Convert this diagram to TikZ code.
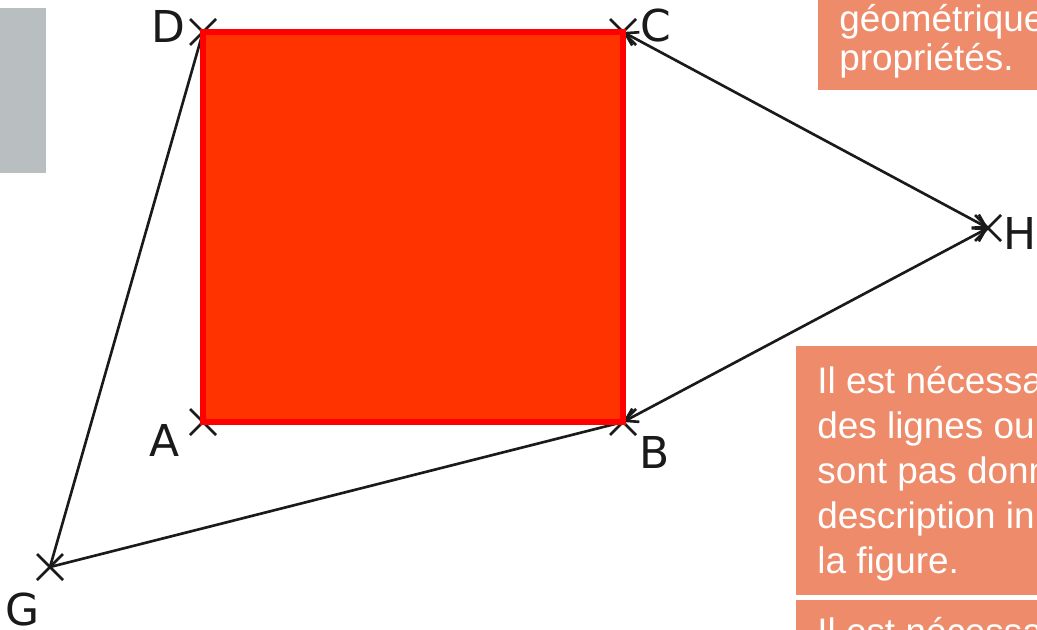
\documentclass[tikz,border=0pt]{standalone}
\usepackage{fontspec}
\setmainfont{Liberation Sans}
\newfontfamily\labelfont{DejaVu Sans}
\usetikzlibrary{positioning, arrows.meta}
\definecolor{squareRed}{HTML}{FF3300}
\definecolor{edgeRed}{HTML}{FF0000}
\definecolor{noteOrange}{HTML}{EE8B6A}
\definecolor{sideGrey}{HTML}{B9BEC1}
\definecolor{ink}{HTML}{1A1A1A}

\begin{document}
\begin{tikzpicture}[x=0.02cm, y=-0.02cm]
  \tikzset{pointlabel/.style={font=\labelfont\fontsize{25}{30}\selectfont, text=ink, inner sep=0pt},
    crossmark/.style={draw=ink, line width=1.5pt},
    segment/.style={draw=ink, line width=1.5pt},
    arrowseg/.style={segment, {Straight Barb[length=2.4mm,width=3mm]}-{Straight Barb[length=2.4mm,width=3mm]}},
    notebox/.style={fill=noteOrange},
    noteline/.style={anchor=base west, inner sep=0pt, text=white, font=\fontsize{21}{25}\selectfont}}
  \clip (0,0) rectangle (1037,629);
  \fill[white] (0,0) rectangle (1037,629);
  % points of the figure
  \coordinate (A) at (203,422);
  \coordinate (B) at (623,422);
  \coordinate (C) at (623,32);
  \coordinate (D) at (203,32);
  \coordinate (G) at (50,567);
  \coordinate (H) at (988,228);
  \foreach \p in {A,B,C,D,G,H}
    \draw[crossmark] (\p) ++(-13,-13) -- ++(26,26) (\p) ++(-13,13) -- ++(26,-26);
  \draw[segment] (G) -- (D);
  \draw[segment] (G) -- (B);
  \draw[arrowseg] (H) -- (C);
  \draw[arrowseg] (H) -- (B);
  \draw[fill=squareRed, draw=edgeRed, line width=3pt] (D) rectangle (B);
  \node[pointlabel] (labA) at (165,440) {A};
  \node[pointlabel] (labB) at (655,452) {B};
  \node[pointlabel] (labC) at (656,26) {C};
  \node[pointlabel] (labD) at (168,26) {D};
  \node[pointlabel] (labG) at (23,609) {G};
  \node[pointlabel] (labH) at (1020,233) {H};
  % side panels
  \fill[sideGrey] (0,8) rectangle (46,173);
  \fill[notebox] (818,-5) rectangle (1040,90);
  \fill[notebox] (796,346) rectangle (1040,595);
  \fill[notebox] (796,600) rectangle (1040,640);
  \node[noteline] (top1) at (839,31) {géométrique};
  \node[noteline] (top2) at (839,70) {propriétés.};
  \foreach \txt [count=\i from 0] in {Il est nécessa, des lignes ou, sont pas donn, description in, la figure.}
    \node[noteline] (note\i) at (817,{393+45*\i}) {\txt};
  \node[noteline] (last1) at (817,644) {Il est nécessa};
\end{tikzpicture}
\end{document}
